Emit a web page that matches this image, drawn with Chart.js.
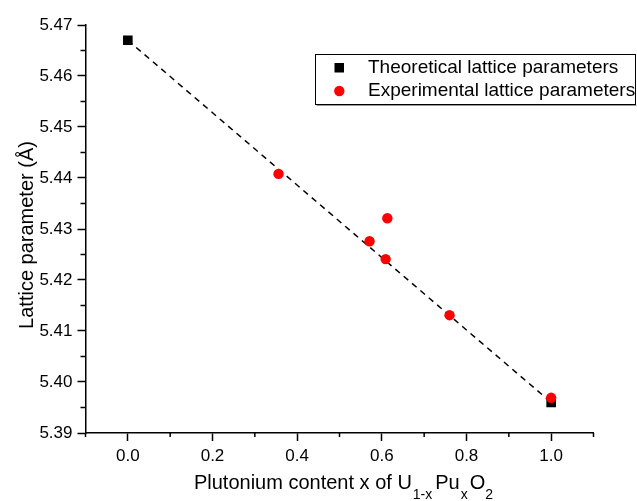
<!DOCTYPE html>
<html>
<head>
<meta charset="utf-8">
<script src="https://cdn.jsdelivr.net/npm/chart.js@4.4.1/dist/chart.umd.min.js"></script>
<style>
  body { margin: 0; background: #fff; }
  #wrap { width: 637px; height: 501px; position: relative; }
</style>
</head>
<body>
<div id="wrap"><canvas id="canvas"></canvas></div>
<script>
// values
var theoX = [0.0, 1.0];
var theoY = [5.467, 5.396];
var expX = [0.356, 0.571, 0.613, 0.609, 0.76, 1.0];
var expY = [5.4408, 5.4276, 5.4321, 5.4241, 5.4131, 5.3969];
var fitX = [0.0, 1.0];
var fitY = [5.467, 5.396];
var xTicks = [0.0, 0.2, 0.4, 0.6, 0.8, 1.0];
var xMinor = [-0.1, 0.1, 0.3, 0.5, 0.7, 0.9, 1.1];
var yTicks = [5.39, 5.40, 5.41, 5.42, 5.43, 5.44, 5.45, 5.46, 5.47];
var yTitle = 'Lattice parameter (Å)';
var FONT = "'Liberation Sans', Arial, sans-serif";

function pts(xs, ys) {
  return xs.map(function (x, i) { return { x: x, y: ys[i] }; });
}

// minor ticks between the labelled ones
var minorTicks = {
  id: 'minorTicks',
  afterDraw: function (chart) {
    var ctx = chart.ctx, xs = chart.scales.x, ys = chart.scales.y;
    var a = chart.chartArea;
    ctx.save();
    ctx.strokeStyle = '#000';
    ctx.lineWidth = 1.5;
    ctx.beginPath();
    xMinor.forEach(function (v) {
      var px = xs.getPixelForValue(v);
      ctx.moveTo(px, a.bottom);
      ctx.lineTo(px, a.bottom + 4);
    });
    for (var i = 0; i < yTicks.length - 1; i++) {
      var py = ys.getPixelForValue((yTicks[i] + yTicks[i + 1]) / 2);
      ctx.moveTo(a.left, py);
      ctx.lineTo(a.left - 5, py);
    }
    ctx.stroke();
    ctx.restore();
  }
};

// axis titles; the x one has subscripts : U(1-x)Pu(x)O(2)
var axisTitles = {
  id: 'axisTitles',
  afterDraw: function (chart) {
    var ctx = chart.ctx;
    var a = chart.chartArea;
    // text, subscript?, gap after
    var parts = [
      ['Plutonium content x of U', false, 1], ['1-x', true, 3], ['Pu', false, 1],
      ['x', true, 2], ['O', false, 0], ['2', true, 0]
    ];
    var big = '20px ' + FONT, small = '14px ' + FONT;
    ctx.save();
    var w = 0;
    parts.forEach(function (p) { ctx.font = p[1] ? small : big; w += ctx.measureText(p[0]).width + p[2]; });
    var x = (a.left + a.right) / 2 + 4 - w / 2;
    var base = 489;
    ctx.fillStyle = '#000';
    ctx.textBaseline = 'alphabetic';
    parts.forEach(function (p) {
      ctx.font = p[1] ? small : big;
      ctx.fillText(p[0], x, p[1] ? base + 10 : base);
      x += ctx.measureText(p[0]).width + p[2];
    });

    ctx.translate(27, (a.top + a.bottom) / 2 + 6);
    ctx.rotate(-Math.PI / 2);
    ctx.font = big;
    ctx.textAlign = 'center';
    ctx.textBaseline = 'middle';
    ctx.fillText(yTitle, 0, 0);
    ctx.restore();
  }
};

// boxed legend inside the plot
var boxLegend = {
  id: 'boxLegend',
  afterDraw: function (chart) {
    var ctx = chart.ctx;
    ctx.save();
    ctx.fillStyle = '#fff';
    ctx.fillRect(315.5, 54.5, 320, 50);
    ctx.strokeStyle = '#999';
    ctx.lineWidth = 1;
    ctx.beginPath();
    ctx.moveTo(316.5, 105.5); ctx.lineTo(636.5, 105.5);
    ctx.stroke();
    ctx.strokeStyle = '#000';
    ctx.strokeRect(315.5, 54.5, 320, 50);
    ctx.font = '19px ' + FONT;
    ctx.textBaseline = 'middle';
    ctx.fillStyle = '#000';
    ctx.fillRect(334.5, 63, 9.5, 9.5);
    ctx.fillText(chart.data.datasets[1].label, 368, 68);
    ctx.fillStyle = '#ff0000';
    ctx.beginPath();
    ctx.arc(339.3, 91, 5.2, 0, Math.PI * 2);
    ctx.fill();
    ctx.fillStyle = '#000';
    ctx.fillText(chart.data.datasets[0].label, 368, 91);
    ctx.restore();
  }
};

window.onload = function () {
  var ctx = document.getElementById('canvas').getContext('2d');
  window.myChart = new Chart(ctx, {
    type: 'scatter',
    data: {
      datasets: [{
        label: 'Experimental lattice parameters',
        data: pts(expX, expY),
        backgroundColor: '#ff0000',
        borderColor: '#ff0000',
        pointStyle: 'circle',
        pointRadius: 5.2,
        borderWidth: 0,
        order: 1
      }, {
        label: 'Theoretical lattice parameters',
        data: pts(theoX, theoY),
        backgroundColor: '#000',
        borderColor: '#000',
        pointStyle: 'rect',
        pointRadius: 6.8,
        borderWidth: 0,
        order: 2
      }, {
        label: 'fit',
        type: 'line',
        data: pts(fitX, fitY),
        borderColor: '#000',
        borderWidth: 1.5,
        borderDash: [6, 5],
        pointRadius: 0,
        fill: false,
        order: 3
      }]
    },
    options: {
      responsive: true,
      maintainAspectRatio: false,
      animation: false,
      layout: { padding: { top: 25, right: 43.5, left: 0, bottom: 0 } },
      plugins: {
        legend: { display: false },
        tooltip: { enabled: false }
      },
      scales: {
        x: {
          type: 'linear',
          min: -0.1,
          max: 1.1,
          afterBuildTicks: function (s) { s.ticks = xTicks.map(function (v) { return { value: v }; }); },
          afterFit: function (s) { s.height = 68; },
          grid: { drawOnChartArea: false, tickLength: 8, tickColor: '#000', tickWidth: 1.5 },
          border: { color: '#000', width: 1.5 },
          ticks: {
            color: '#000',
            padding: 5,
            maxRotation: 0,
            autoSkip: false,
            font: { family: FONT, size: 17 },
            callback: function (v) { return Number(v).toFixed(1); }
          }
        },
        y: {
          type: 'linear',
          min: 5.39,
          max: 5.47,
          afterBuildTicks: function (s) { s.ticks = yTicks.map(function (v) { return { value: v }; }); },
          afterFit: function (s) { s.width = 85.5; },
          grid: { drawOnChartArea: false, tickLength: 8, tickColor: '#000', tickWidth: 1.5 },
          border: { color: '#000', width: 1.5 },
          ticks: {
            color: '#000',
            padding: 5,
            autoSkip: false,
            font: { family: FONT, size: 17 },
            callback: function (v) { return Number(v).toFixed(2); }
          }
        }
      }
    },
    plugins: [minorTicks, axisTitles, boxLegend]
  });
};
</script>
</body>
</html>
